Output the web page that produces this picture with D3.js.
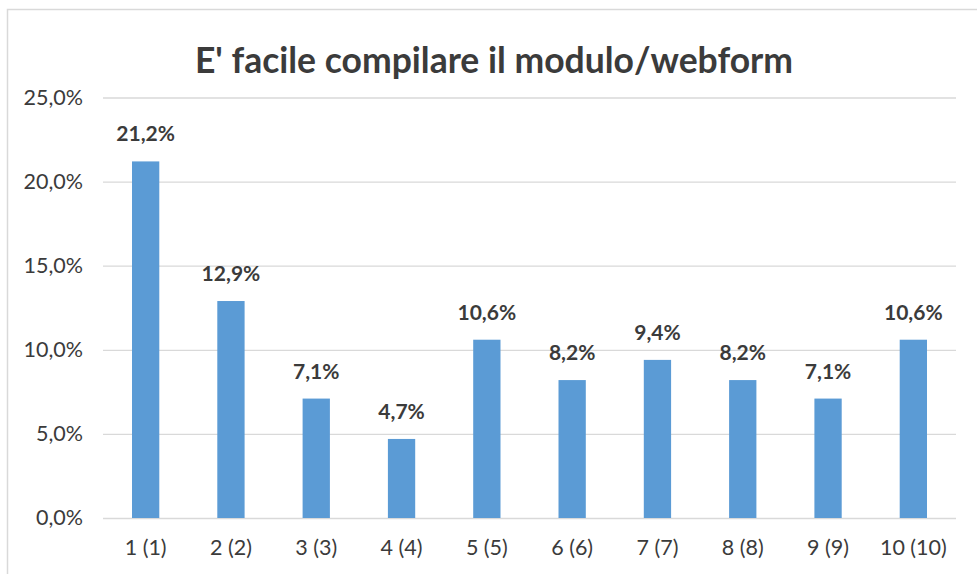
<!DOCTYPE html>
<html>
<head>
<meta charset="utf-8">
<script src="https://cdn.jsdelivr.net/npm/d3@7"></script>
<style>
  body { margin: 0; background: #fff; }
  svg { display: block; font-family: Lato, "Open Sans", sans-serif; }
</style>
</head>
<body>
<div id="chart"></div>
<script>
// Data
const categories = ['1 (1)', '2 (2)', '3 (3)', '4 (4)', '5 (5)', '6 (6)', '7 (7)', '8 (8)', '9 (9)', '10 (10)'];
const values = [21.2, 12.9, 7.1, 4.7, 10.6, 8.2, 9.4, 8.2, 7.1, 10.6];
const yTicks = [0, 5, 10, 15, 20, 25];
const title = "E' facile compilare il modulo/webform";

const W = 977, H = 574;
const margin = { top: 97.5, right: 21, bottom: 56, left: 103 };
const width = W - margin.left - margin.right;
const height = H - margin.top - margin.bottom;
const textColor = '#3b3b3b';
const fmt = v => v.toFixed(1).replace('.', ',') + '%';

const svg = d3.select('#chart')
    .append('svg')
    .attr('width', W)
    .attr('height', H);

// chart border
svg.append('rect')
    .attr('x', 7.5).attr('y', 9.5)
    .attr('width', W).attr('height', H)
    .attr('fill', 'none')
    .attr('stroke', '#d9d9d9')
    .attr('stroke-width', 1.5);

// Title
svg.append('text')
    .attr('x', 494)
    .attr('y', 73)
    .attr('text-anchor', 'middle')
    .attr('font-size', 35.5)
    .attr('font-weight', 'bold')
    .attr('fill', textColor)
    .text(title);

const g = svg.append('g')
    .attr('transform', `translate(${margin.left}, ${margin.top})`);

// Scales
const xScale = d3.scaleBand()
    .domain(categories)
    .range([0, width])
    .paddingInner(0.68)
    .paddingOuter(0.34);

const yScale = d3.scaleLinear()
    .domain([0, 25])
    .range([height, 0]);

// Gridlines + y axis
const yAxis = d3.axisLeft(yScale)
    .tickValues(yTicks)
    .tickSize(-width)
    .tickPadding(20)
    .tickFormat(fmt);

g.append('g')
    .attr('class', 'y-axis')
    .call(yAxis)
    .call(ax => ax.select('.domain').remove())
    .call(ax => ax.selectAll('line').attr('stroke', '#d9d9d9').attr('stroke-width', 1.3))
    .call(ax => ax.selectAll('text')
        .attr('font-size', 21.5)
        .attr('fill', textColor)
        .attr('font-family', 'Lato, "Open Sans", sans-serif'));

// x axis labels
const xAxis = d3.axisBottom(xScale)
    .tickSize(0)
    .tickPadding(22);

g.append('g')
    .attr('class', 'x-axis')
    .attr('transform', `translate(0, ${height})`)
    .call(xAxis)
    .call(ax => ax.select('.domain').remove())
    .call(ax => ax.selectAll('text')
        .attr('font-size', 21.5)
        .attr('fill', textColor)
        .attr('font-family', 'Lato, "Open Sans", sans-serif'));

// Bars
g.selectAll('.bar')
    .data(values)
    .enter()
    .append('rect')
    .attr('class', 'bar')
    .attr('x', (d, i) => xScale(categories[i]))
    .attr('y', d => yScale(d))
    .attr('width', xScale.bandwidth())
    .attr('height', d => height - yScale(d))
    .attr('fill', '#5b9bd5');

// Data labels
g.selectAll('.label')
    .data(values)
    .enter()
    .append('text')
    .attr('class', 'label')
    .attr('x', (d, i) => xScale(categories[i]) + xScale.bandwidth() / 2)
    .attr('y', d => yScale(d) - 20)
    .attr('text-anchor', 'middle')
    .attr('font-size', 21)
    .attr('font-weight', 'bold')
    .attr('fill', textColor)
    .text(fmt);
</script>
</body>
</html>
